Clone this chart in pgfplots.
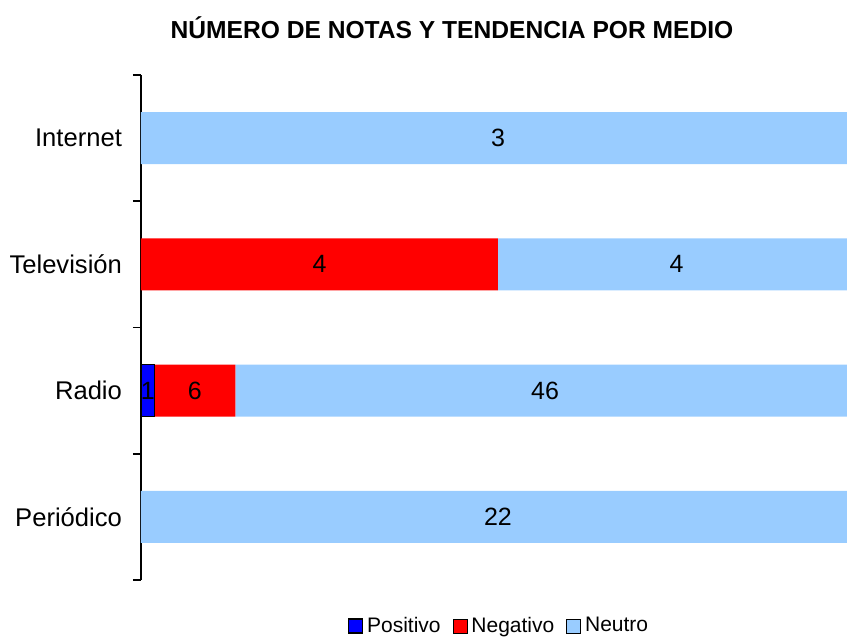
\documentclass[border=0pt]{standalone}
\usepackage{pgfplots}
\pgfplotsset{compat=1.18}
\usepackage{pgfplotstable}
\usepackage{fontspec}
\setmainfont{Liberation Sans}
\definecolor{cpos}{HTML}{0000FF}
\definecolor{cneg}{HTML}{FF0000}
\definecolor{cneu}{HTML}{99CCFF}
\pgfplotstableread{
y pos neg neu tot
0 0 0 22 22
1 1 6 46 53
2 0 4 4 8
3 0 0 3 3
}\datatab
\begin{document}
\begin{tikzpicture}
\useasboundingbox (-70.5pt,-29.5pt) rectangle (353pt,290pt);
\begin{scope}
\clip (-70.5pt,-29.5pt) rectangle (353pt,290pt);
\begin{axis}[
  at={(0,0)}, anchor=south west,
  scale only axis, width=357pt, height=252.5pt,
  xbar stacked, bar width=26pt,
  xmin=0, xmax=100, ymin=-0.5, ymax=3.5,
  axis x line=none, axis y line*=left,
  axis line style={line width=0.8pt, black},
  ytick={0,1,2,3},
  yticklabels={Periódico,Radio,Televisión,Internet},
  major tick length=0pt,
  minor ytick={-0.5,0.5,1.5,2.5,3.5},
  minor tick length=4pt, tick align=outside,
  minor tick style={line width=0.8pt, black},
  yticklabel style={font=\fontsize{12.8}{15}\selectfont, xshift=-6pt},
  title={NÚMERO DE NOTAS Y TENDENCIA POR MEDIO},
  title style={font=\fontsize{12.3}{15}\selectfont\bfseries, at={(0.4356,1)}, anchor=center, yshift=17.5pt},
  legend columns=3,
  legend style={draw=none, fill=none, at={(0.5028,0)}, anchor=center, yshift=-23pt,
    font=\fontsize{10.5}{12}\selectfont, /tikz/every even column/.append style={column sep=4pt}},
  legend image code/.code={\draw[#1] (0pt,-3.5pt) rectangle (7pt,3.5pt);},
  /pgf/number format/assume math mode=true,
  nodes near coords={\pgfmathfloatifflags{\pgfplotspointmeta}{0}{}{\pgfmathprintnumber{\pgfplotspointmeta}}},
  every node near coord/.append style={font=\fontsize{12.5}{15}\selectfont, anchor=center, black},
]
\addplot[fill=cpos, draw=black, line width=0.6pt]
  table[x expr=\thisrow{pos}/\thisrow{tot}*100, y=y, point meta=\thisrow{pos}] {\datatab};
\addlegendentry{Positivo}
\addplot[fill=cneg, draw=none]
  table[x expr=\thisrow{neg}/\thisrow{tot}*100, y=y, point meta=\thisrow{neg}] {\datatab};
\addlegendentry{Negativo}
\addplot[fill=cneu, draw=none]
  table[x expr=\thisrow{neu}/\thisrow{tot}*100, y=y, point meta=\thisrow{neu}] {\datatab};
\addlegendentry{Neutro}
\end{axis}
\end{scope}
\end{tikzpicture}
\end{document}
